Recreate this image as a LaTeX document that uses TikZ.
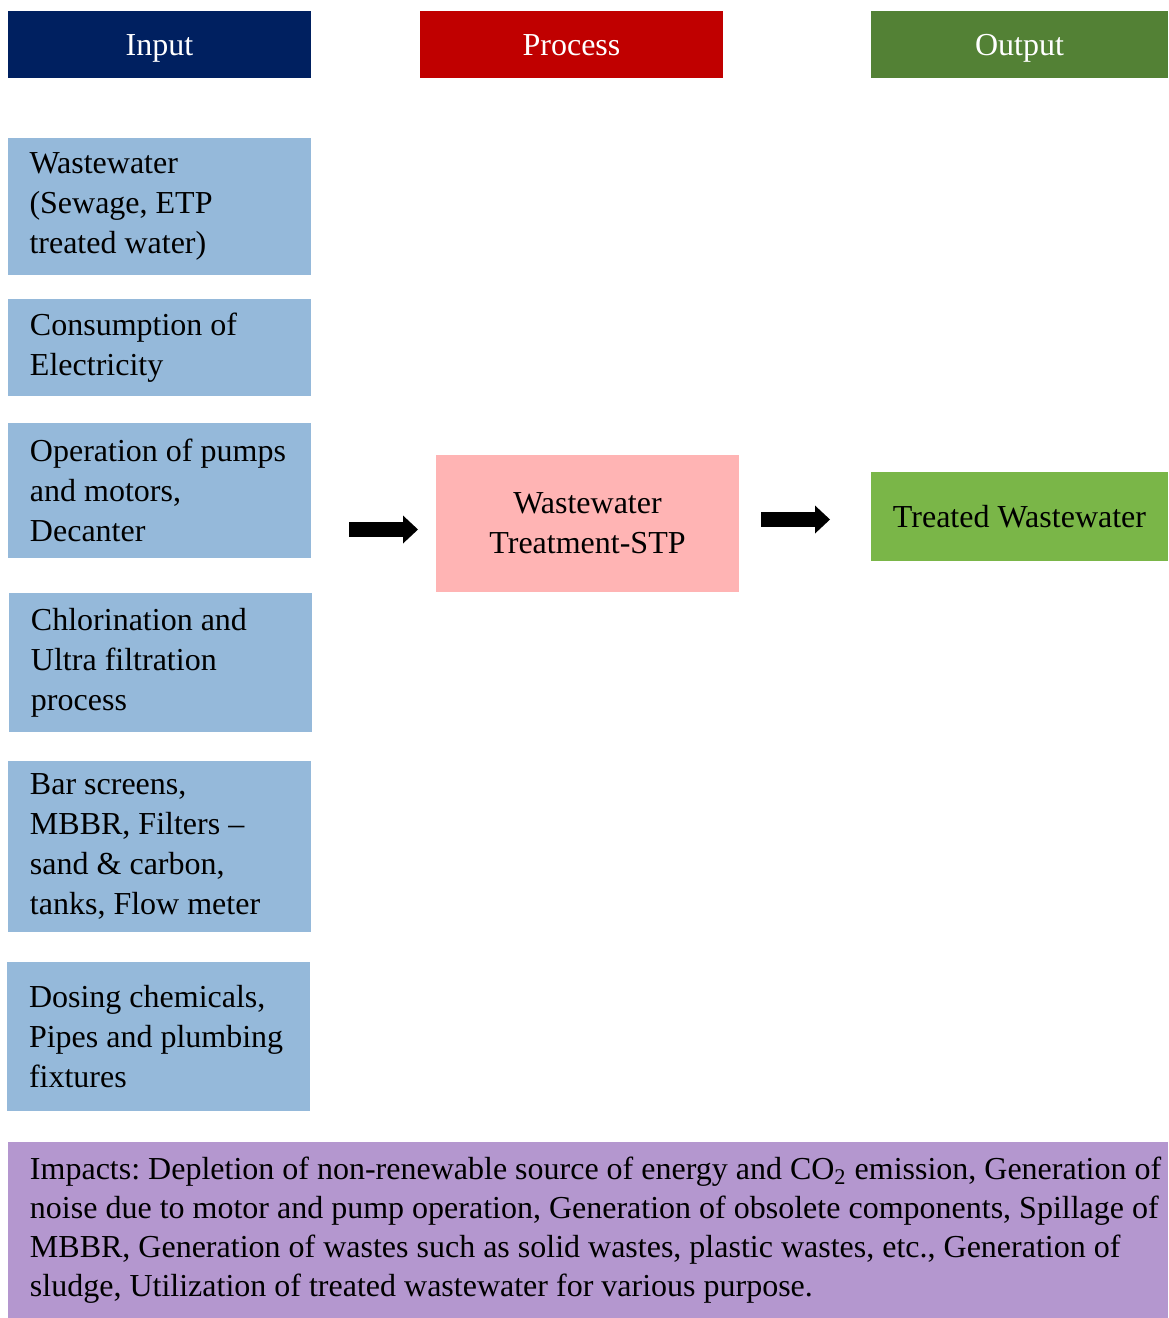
\documentclass[tikz,border=0pt]{standalone}
\usepackage{fontspec}
\setmainfont{Liberation Serif}
\usepackage{xcolor}
\usepackage{tikz}
\usetikzlibrary{arrows.meta}
\usetikzlibrary{positioning}

\definecolor{inhead}{HTML}{002060}
\definecolor{prochead}{HTML}{C00000}
\definecolor{outhead}{HTML}{538135}
\definecolor{inblue}{HTML}{95B9DA}
\definecolor{procpink}{HTML}{FFB4B4}
\definecolor{outgreen}{HTML}{7AB648}
\definecolor{impviolet}{HTML}{B497CF}

\frenchspacing

\begin{document}
\begin{tikzpicture}[x=0.5pt, y=-0.5pt, font=\fontsize{16}{20}\selectfont,
    natsp/.style={execute at begin node={\spaceskip=0pt\xspaceskip=0pt}},
    head/.style={fill=#1, text=white, minimum width=151.5pt, minimum height=33.5pt, inner sep=0pt, text height=13.5pt, text depth=2.5pt},
    inbox/.style={fill=inblue, text width=129.5pt, inner xsep=11pt, inner ysep=0pt, align=left, natsp, minimum height=#1},
    bigarrow/.style={line width=7.5pt, -{Triangle[length=7.5pt, width=14pt, line width=0pt]}}]

            \useasboundingbox (0,0) rectangle (1168,1318);

            % headers
            \draw (159.5,44.5) node[head=inhead]                          (hin) {Input};
            \draw (571.5,44.5) node[head=prochead]                        (hproc) {Process};
            \draw (1019.5,44.5) node[head=outhead, minimum width=148.5pt] (hout) {Output};

            % inputs
            \draw (159,206.5) node[inbox=68.5pt]    (in1) {\mbox{Wastewater}\\\mbox{(Sewage, ETP}\\\mbox{treated water)}};
            \draw (159.5,347.5) node[inbox=48.5pt]  (in2) {\mbox{Consumption of}\\\mbox{Electricity}};
            \draw (159.5,490.5) node[inbox=67.5pt]  (in3) {\mbox{Operation of pumps}\\\mbox{and motors,}\\\mbox{Decanter}};
            \draw (160.5,662.5) node[inbox=69.5pt]  (in4) {\mbox{Chlorination and}\\\mbox{Ultra filtration}\\\mbox{process}};
            \draw (159.5,846.5) node[inbox=85.5pt]  (in5) {\mbox{Bar screens,}\\\mbox{MBBR, Filters --}\\\mbox{sand \& carbon,}\\\mbox{tanks, Flow meter}};
            \draw (158.5,1036.5) node[inbox=74.5pt] (in6) {\mbox{Dosing chemicals,}\\\mbox{Pipes and plumbing}\\\mbox{fixtures}};

            % process and output
            \draw (587.5,523.5) node[fill=procpink, minimum width=151.5pt, minimum height=68.5pt, inner sep=0pt, align=center, natsp] (proc) {Wastewater\\Treatment-STP};
            \draw (1019.5,516.5) node[fill=outgreen, minimum width=148.5pt, minimum height=44.5pt, inner sep=0pt] (out) {Treated Wastewater};

            % impacts
            \draw (588,1230) node[fill=impviolet, text width=558pt, inner xsep=11pt, inner ysep=0pt, minimum height=88pt, align=left, natsp,
                font=\fontsize{16}{19.5}\selectfont] (imp)
                {\mbox{Impacts: Depletion of non-renewable source of energy and CO\textsubscript{2} emission, Generation of}\\
                 \mbox{noise due to motor and pump operation, Generation of obsolete components, Spillage of}\\
                 \mbox{MBBR, Generation of wastes such as solid wastes, plastic wastes, etc., Generation of}\\
                 \mbox{sludge, Utilization of treated wastewater for various purpose.}};

            % arrows
            \coordinate (a1) at (349,529.5);
            \coordinate (b1) at (418,529.5);
            \coordinate (a2) at (761,519.5);
            \coordinate (b2) at (830,519.5);

            \draw[bigarrow] (a1) -- (b1);
            \draw[bigarrow] (a2) -- (b2);

            \end{tikzpicture}
\end{document}
